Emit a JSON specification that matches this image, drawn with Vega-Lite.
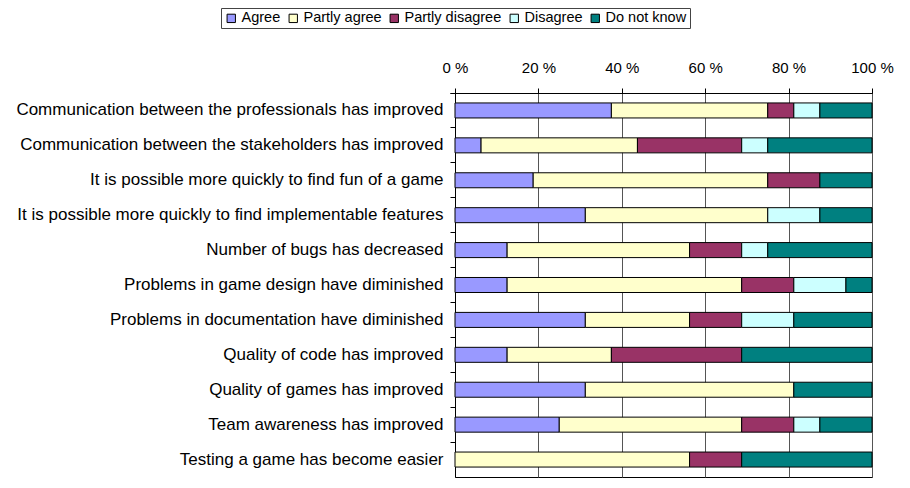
{
  "$schema": "https://vega.github.io/schema/vega-lite/v6.json",
  "width": 417,
  "height": 384,
  "autosize": {"type": "none"},
  "padding": {"left": 455, "top": 93, "right": 38, "bottom": 11},
  "background": "white",
  "data": {"values": [
    {"q": "Communication between the professionals has improved", "k": 1, "r": "Agree", "v": 37.5},
    {"q": "Communication between the professionals has improved", "k": 2, "r": "Partly agree", "v": 37.5},
    {"q": "Communication between the professionals has improved", "k": 3, "r": "Partly disagree", "v": 6.25},
    {"q": "Communication between the professionals has improved", "k": 4, "r": "Disagree", "v": 6.25},
    {"q": "Communication between the professionals has improved", "k": 5, "r": "Do not know", "v": 12.5},
    {"q": "Communication between the stakeholders has improved", "k": 1, "r": "Agree", "v": 6.25},
    {"q": "Communication between the stakeholders has improved", "k": 2, "r": "Partly agree", "v": 37.5},
    {"q": "Communication between the stakeholders has improved", "k": 3, "r": "Partly disagree", "v": 25},
    {"q": "Communication between the stakeholders has improved", "k": 4, "r": "Disagree", "v": 6.25},
    {"q": "Communication between the stakeholders has improved", "k": 5, "r": "Do not know", "v": 25},
    {"q": "It is possible more quickly to find fun of a game", "k": 1, "r": "Agree", "v": 18.75},
    {"q": "It is possible more quickly to find fun of a game", "k": 2, "r": "Partly agree", "v": 56.25},
    {"q": "It is possible more quickly to find fun of a game", "k": 3, "r": "Partly disagree", "v": 12.5},
    {"q": "It is possible more quickly to find fun of a game", "k": 5, "r": "Do not know", "v": 12.5},
    {"q": "It is possible more quickly to find implementable features", "k": 1, "r": "Agree", "v": 31.25},
    {"q": "It is possible more quickly to find implementable features", "k": 2, "r": "Partly agree", "v": 43.75},
    {"q": "It is possible more quickly to find implementable features", "k": 4, "r": "Disagree", "v": 12.5},
    {"q": "It is possible more quickly to find implementable features", "k": 5, "r": "Do not know", "v": 12.5},
    {"q": "Number of bugs has decreased", "k": 1, "r": "Agree", "v": 12.5},
    {"q": "Number of bugs has decreased", "k": 2, "r": "Partly agree", "v": 43.75},
    {"q": "Number of bugs has decreased", "k": 3, "r": "Partly disagree", "v": 12.5},
    {"q": "Number of bugs has decreased", "k": 4, "r": "Disagree", "v": 6.25},
    {"q": "Number of bugs has decreased", "k": 5, "r": "Do not know", "v": 25},
    {"q": "Problems in game design have diminished", "k": 1, "r": "Agree", "v": 12.5},
    {"q": "Problems in game design have diminished", "k": 2, "r": "Partly agree", "v": 56.25},
    {"q": "Problems in game design have diminished", "k": 3, "r": "Partly disagree", "v": 12.5},
    {"q": "Problems in game design have diminished", "k": 4, "r": "Disagree", "v": 12.5},
    {"q": "Problems in game design have diminished", "k": 5, "r": "Do not know", "v": 6.25},
    {"q": "Problems in documentation have diminished", "k": 1, "r": "Agree", "v": 31.25},
    {"q": "Problems in documentation have diminished", "k": 2, "r": "Partly agree", "v": 25},
    {"q": "Problems in documentation have diminished", "k": 3, "r": "Partly disagree", "v": 12.5},
    {"q": "Problems in documentation have diminished", "k": 4, "r": "Disagree", "v": 12.5},
    {"q": "Problems in documentation have diminished", "k": 5, "r": "Do not know", "v": 18.75},
    {"q": "Quality of code has improved", "k": 1, "r": "Agree", "v": 12.5},
    {"q": "Quality of code has improved", "k": 2, "r": "Partly agree", "v": 25},
    {"q": "Quality of code has improved", "k": 3, "r": "Partly disagree", "v": 31.25},
    {"q": "Quality of code has improved", "k": 5, "r": "Do not know", "v": 31.25},
    {"q": "Quality of games has improved", "k": 1, "r": "Agree", "v": 31.25},
    {"q": "Quality of games has improved", "k": 2, "r": "Partly agree", "v": 50},
    {"q": "Quality of games has improved", "k": 5, "r": "Do not know", "v": 18.75},
    {"q": "Team awareness has improved", "k": 1, "r": "Agree", "v": 25},
    {"q": "Team awareness has improved", "k": 2, "r": "Partly agree", "v": 43.75},
    {"q": "Team awareness has improved", "k": 3, "r": "Partly disagree", "v": 12.5},
    {"q": "Team awareness has improved", "k": 4, "r": "Disagree", "v": 6.25},
    {"q": "Team awareness has improved", "k": 5, "r": "Do not know", "v": 12.5},
    {"q": "Testing a game has become easier", "k": 2, "r": "Partly agree", "v": 56.25},
    {"q": "Testing a game has become easier", "k": 3, "r": "Partly disagree", "v": 12.5},
    {"q": "Testing a game has become easier", "k": 5, "r": "Do not know", "v": 31.25}
  ]},
  "mark": {"type": "bar", "stroke": "#000000", "strokeWidth": 1, "height": {"band": 0.43}},
  "encoding": {
    "y": {
      "field": "q", "type": "nominal", "sort": null,
      "scale": {"paddingInner": 0, "paddingOuter": 0},
      "axis": {
        "title": null, "orient": "left", "ticks": true, "bandPosition": 0, "tickExtra": true,
        "tickSize": 5, "tickColor": "#000", "tickOpacity": 1, "tickWidth": 1,
        "domainColor": "#000",
        "labelPadding": 7, "labelFontSize": 17, "labelColor": "#000",
        "labelFont": "Liberation Sans", "labelLimit": 0, "grid": false
      }
    },
    "x": {
      "field": "v", "type": "quantitative", "stack": "zero",
      "scale": {"domain": [0, 100], "nice": false},
      "axis": {
        "title": null, "orient": "top", "values": [0, 20, 40, 60, 80, 100],
        "labelExpr": "datum.value + ' %'", "labelFlush": false, "labelOverlap": false,
        "tickSize": 5, "tickColor": "#000", "domainColor": "#000",
        "labelPadding": 13, "labelFontSize": 15, "labelColor": "#000",
        "labelFont": "Liberation Sans",
        "grid": true, "gridColor": "#555", "gridOpacity": 1
      }
    },
    "color": {
      "field": "r", "type": "nominal",
      "scale": {
        "domain": ["Agree", "Partly agree", "Partly disagree", "Disagree", "Do not know"],
        "range": ["#9999FF", "#FFFFCC", "#993366", "#CCFFFF", "#008080"]
      },
      "legend": {
        "title": null, "orient": "none", "legendX": -234, "legendY": -85,
        "direction": "horizontal", "columns": 5,
        "symbolType": "square", "symbolSize": 70, "symbolStrokeColor": "#000",
        "symbolStrokeWidth": 1, "symbolOpacity": 1,
        "labelFontSize": 14.5, "labelFont": "Liberation Sans", "labelColor": "#000",
        "labelOffset": 3, "columnPadding": 5, "padding": 3,
        "strokeColor": "#444", "fillColor": "white"
      }
    },
    "order": {"field": "k", "sort": "ascending"}
  },
  "config": {
    "view": {"stroke": "#000", "strokeWidth": 1},
    "font": "Liberation Sans"
  }
}
